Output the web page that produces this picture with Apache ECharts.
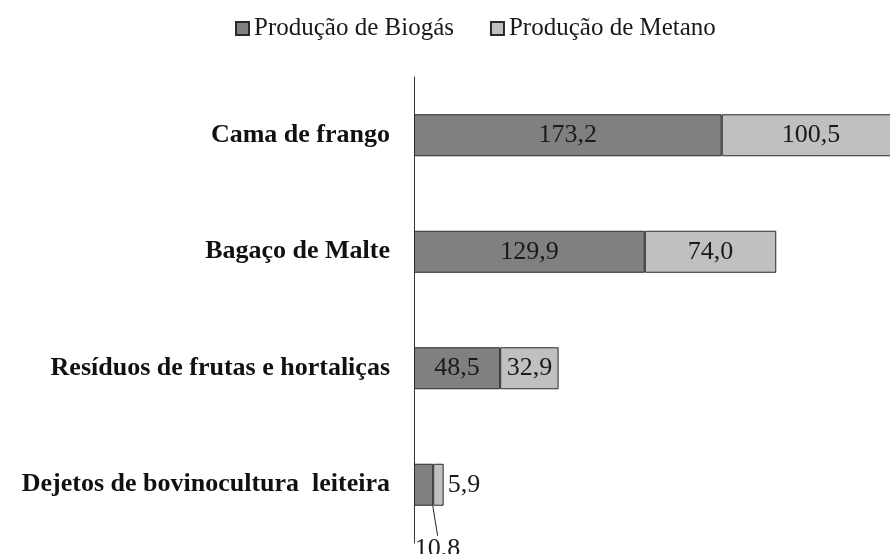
<!DOCTYPE html>
<html>
<head>
<meta charset="utf-8">
<script src="https://cdn.jsdelivr.net/npm/echarts@6/dist/echarts.min.js"></script>
<style>
  html, body { margin: 0; padding: 0; background: #fff; }
  #chart { width: 890px; height: 554px; }
</style>
</head>
<body>
<div id="chart"></div>
<script>
// Substrates, top to bottom
const categories = [
  'Cama de frango',
  'Bagaço de Malte',
  'Resíduos de frutas e hortaliças',
  'Dejetos de bovinocultura  leiteira'
];
const biogas = [173.2, 129.9, 48.5, 10.8];
const metano = [100.5, 74.0, 32.9, 5.9];
const seriesNames = ['Produção de Biogás', 'Produção de Metano'];

const FONT = '"Liberation Serif", "Times New Roman", serif';
const fmt = v => v.toFixed(1).replace('.', ',');

const chart = echarts.init(document.getElementById('chart'), null, { renderer: 'canvas' });

// The smallest bar is too narrow for inside labels: its values sit outside
const smallIdx = 3;

chart.setOption({
  animation: false,
  backgroundColor: '#ffffff',
  textStyle: { fontFamily: FONT },
  legend: {
    top: 11,
    left: 230,
    icon: 'rect',
    itemWidth: 13,
    itemHeight: 13,
    itemGap: 36,
    textStyle: { fontFamily: FONT, fontSize: 25, color: '#1a1a1a' },
    data: seriesNames
  },
  grid: { left: 414, top: 77, width: 533, height: 466, outerBoundsMode: 'none', containLabel: false },
  xAxis: {
    type: 'value',
    min: 0,
    max: 300,
    show: false
  },
  yAxis: {
    type: 'category',
    inverse: true,
    data: categories,
    axisLine: { show: true, lineStyle: { color: '#333', width: 1 } },
    axisTick: { show: false },
    axisLabel: {
      margin: 24,
      fontFamily: FONT,
      fontSize: 26,
      fontWeight: 'bold',
      color: '#111'
    }
  },
  series: [
    {
      name: seriesNames[0],
      type: 'bar',
      stack: 'total',
      barWidth: 42,
      itemStyle: { color: '#808080', borderColor: '#2a2a2a', borderWidth: 1 },
      label: {
        show: true,
        position: 'inside',
        fontFamily: FONT,
        fontSize: 26,
        color: '#1a1a1a',
        formatter: p => fmt(p.value)
      },
      labelLine: { show: true, lineStyle: { color: '#222', width: 1 } },
      labelLayout: p => p.dataIndex === smallIdx ? { dy: 64, dx: 14 } : {},
      data: biogas
    },
    {
      name: seriesNames[1],
      type: 'bar',
      stack: 'total',
      barWidth: 42,
      itemStyle: { color: '#c0c0c0', borderColor: '#2a2a2a', borderWidth: 1 },
      label: {
        show: true,
        position: 'inside',
        fontFamily: FONT,
        fontSize: 26,
        color: '#1a1a1a',
        formatter: p => fmt(p.value)
      },
      data: metano.map((v, i) => i === smallIdx
        ? { value: v, label: { position: 'right', distance: 4 } }
        : v)
    }
  ]
});
</script>
</body>
</html>
